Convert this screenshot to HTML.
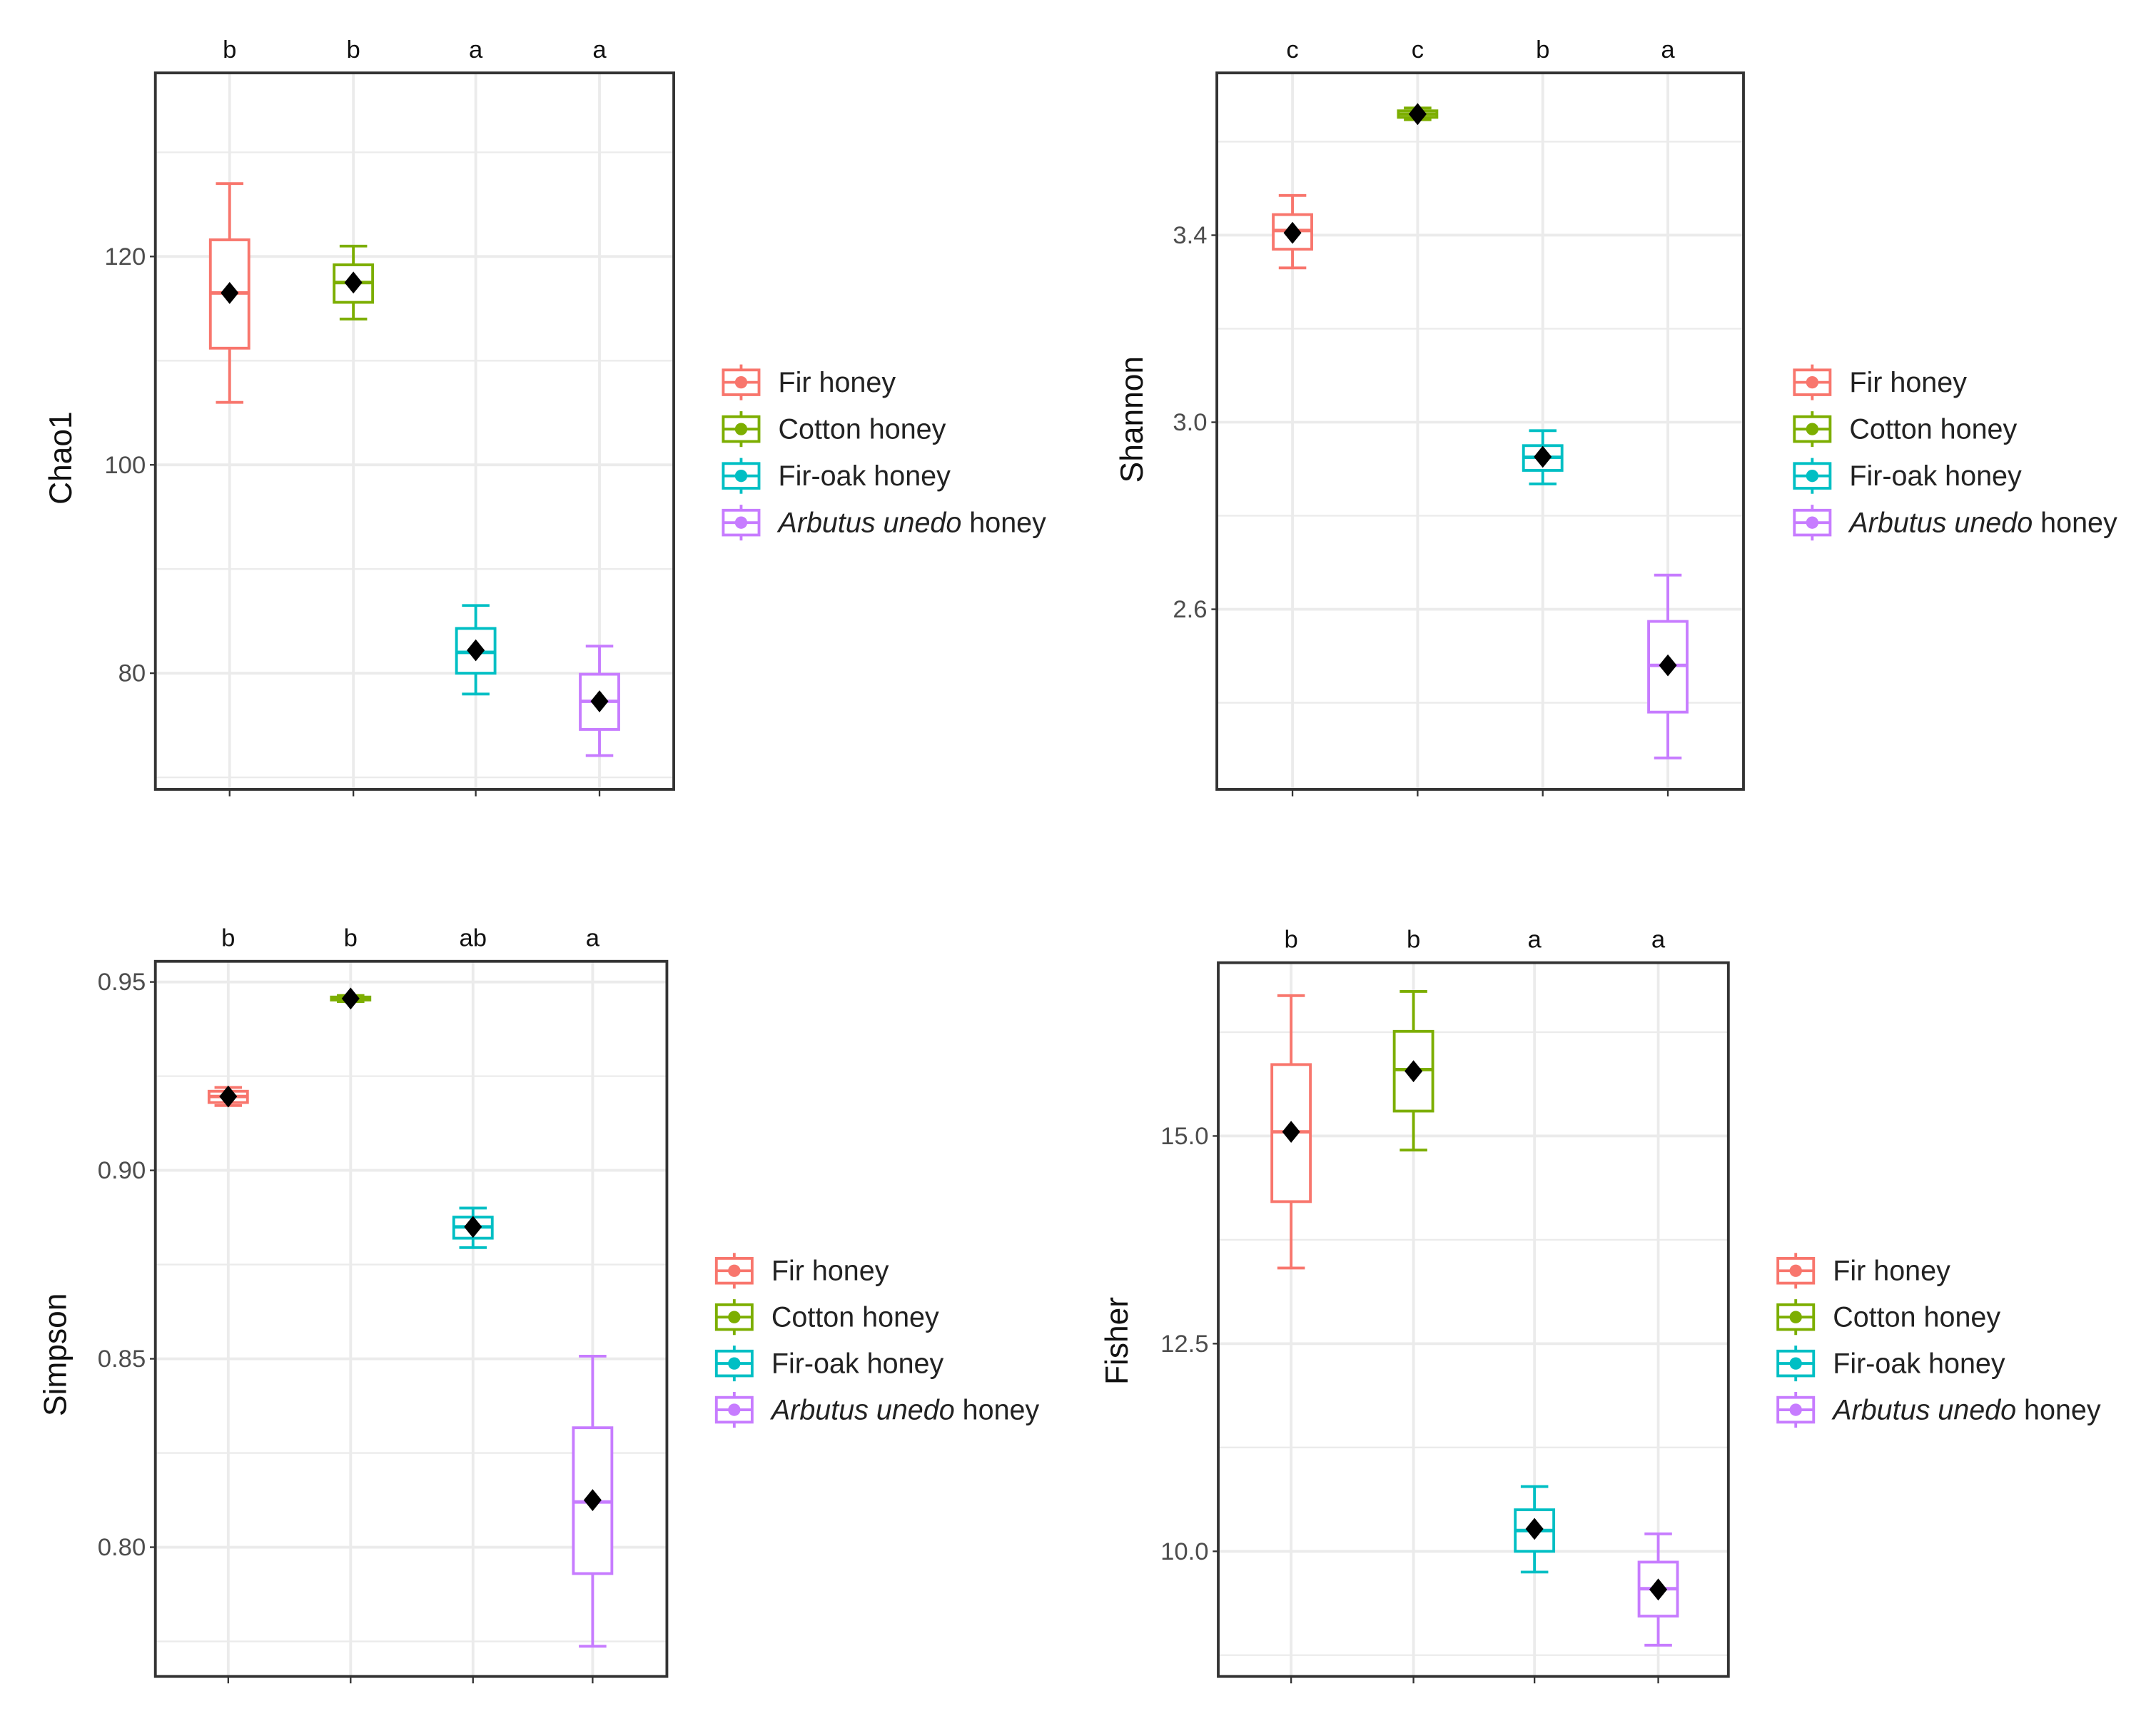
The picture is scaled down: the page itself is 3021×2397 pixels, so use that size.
<!DOCTYPE html>
<html><head><meta charset="utf-8"><style>
html,body{margin:0;padding:0;background:#fff;}
svg{display:block;}
text{font-family:"Liberation Sans",sans-serif;}
</style></head><body>
<svg id="chart" xmlns="http://www.w3.org/2000/svg" width="3021" height="2397" viewBox="0 0 1568 1244.1"></svg>
<script>
const categories = ["Fir honey","Cotton honey","Fir-oak honey","Arbutus unedo honey"];
const colors = ["#F8766D","#7CAE00","#00BFC4","#C77CFF"];
// Chao1
const chao1Low = [106, 114, 78, 72.1];
const chao1Q1 = [111.2, 115.6, 80.0, 74.6];
const chao1Med = [116.5, 117.5, 82.0, 77.3];
const chao1Q3 = [121.6, 119.2, 84.3, 79.9];
const chao1High = [127, 121, 86.5, 82.6];
const chao1Mean = [116.5, 117.5, 82.2, 77.3];
const chao1Ticks = [80, 100, 120];
const chao1Letters = ["b","b","a","a"];
// Shannon
const shannonLow = [3.33, 3.647, 2.868, 2.282];
const shannonQ1 = [3.37, 3.652, 2.897, 2.38];
const shannonMed = [3.41, 3.659, 2.925, 2.48];
const shannonQ3 = [3.444, 3.666, 2.95, 2.574];
const shannonHigh = [3.485, 3.672, 2.982, 2.673];
const shannonMean = [3.405, 3.659, 2.926, 2.48];
const shannonTicks = [2.6, 3.0, 3.4];
const shannonLetters = ["c","c","b","a"];
// Simpson
const simpsonLow = [0.9172, 0.9448, 0.8795, 0.7737];
const simpsonQ1 = [0.918, 0.9452, 0.882, 0.793];
const simpsonMed = [0.9196, 0.9456, 0.885, 0.812];
const simpsonQ3 = [0.921, 0.946, 0.8876, 0.8317];
const simpsonHigh = [0.922, 0.9464, 0.890, 0.8507];
const simpsonMean = [0.9196, 0.9456, 0.885, 0.8125];
const simpsonTicks = [0.80, 0.85, 0.90, 0.95];
const simpsonLetters = ["b","b","ab","a"];
// Fisher
const fisherLow = [13.41, 14.83, 9.75, 8.87];
const fisherQ1 = [14.21, 15.3, 10.0, 9.22];
const fisherMed = [15.05, 15.8, 10.25, 9.55];
const fisherQ3 = [15.86, 16.26, 10.5, 9.87];
const fisherHigh = [16.69, 16.74, 10.78, 10.21];
const fisherMean = [15.05, 15.78, 10.27, 9.54];
const fisherTicks = [10.0, 12.5, 15.0];
const fisherLetters = ["b","b","a","a"];

const NS = "http://www.w3.org/2000/svg";
const svg = document.getElementById("chart");
function mk(tag, attrs, parent){
  const e = document.createElementNS(NS, tag);
  for (const k in attrs) e.setAttribute(k, attrs[k]);
  (parent||svg).appendChild(e);
  return e;
}

function panel(cfg){
  const g = mk("g", {});
  
  
  const {x0,x1,y0,y1,v0,p0,v1,p1} = cfg;
  const ys = v => p0 + (v - v0) * (p1 - p0) / (v1 - v0);
  const step = cfg.ticks[1] - cfg.ticks[0];
  for (let k=-3;k<=cfg.ticks.length+3;k++){
    const v = cfg.ticks[0] + (k-0.5)*step;
    const y = ys(v);
    if (y > y0+2 && y < y1-2){
      const l = mk("line",{x1:x0,x2:x1,y1:y,y2:y,stroke:"#ebebeb","stroke-width":1.2},g);
      
      
    }
  }
  cfg.ticks.forEach((v)=>{
    const y = ys(v);
    const l = mk("line",{x1:x0,x2:x1,y1:y,y2:y,stroke:"#ebebeb","stroke-width":2},g);
    
    
    mk("line",{x1:x0-4,x2:x0,y1:y,y2:y,stroke:"#333","stroke-width":1.2},g);
    const t = mk("text",{x:x0-7,y:y+6,"text-anchor":"end","font-size":18,fill:"#4d4d4d"},g);
    t.textContent = cfg.fmt(v);
    
    
  });
  cfg.cx.forEach((cx,i)=>{
    const l = mk("line",{x1:cx,x2:cx,y1:y0,y2:y1,stroke:"#ebebeb","stroke-width":2},g);
    
    
    mk("line",{x1:cx,x2:cx,y1:y1,y2:y1+5,stroke:"#333","stroke-width":1.2},g);
    const t = mk("text",{x:cx,y:y0-11,"text-anchor":"middle","font-size":18,fill:"#111"},g);
    t.textContent = cfg.letters[i];
    
    
  });
  cfg.cx.forEach((cx,i)=>{
    const c = colors[i];
    const bg = mk("g",{},g);
    
    
    const yl=ys(cfg.low[i]), yq1=ys(cfg.q1[i]), ym=ys(cfg.med[i]), yq3=ys(cfg.q3[i]), yh=ys(cfg.high[i]), ymean=ys(cfg.mean[i]);
    mk("line",{x1:cx,x2:cx,y1:yl,y2:yq1,stroke:c,"stroke-width":2},bg);
    mk("line",{x1:cx,x2:cx,y1:yq3,y2:yh,stroke:c,"stroke-width":2},bg);
    mk("line",{x1:cx-10,x2:cx+10,y1:yl,y2:yl,stroke:c,"stroke-width":2},bg);
    mk("line",{x1:cx-10,x2:cx+10,y1:yh,y2:yh,stroke:c,"stroke-width":2},bg);
    mk("rect",{x:cx-14,y:yq3,width:28,height:Math.max(yq1-yq3,1),fill:"#fff",stroke:c,"stroke-width":2},bg);
    mk("line",{x1:cx-14,x2:cx+14,y1:ym,y2:ym,stroke:c,"stroke-width":2.5},bg);
    const d = mk("polygon",{points:`${cx},${ymean-8} ${cx+6.5},${ymean} ${cx},${ymean+8} ${cx-6.5},${ymean}`,fill:"#000"},bg);
    
    
  });
  const fr = mk("rect",{x:x0,y:y0,width:x1-x0,height:y1-y0,fill:"none",stroke:"#333","stroke-width":2},g);
  
  
  const at = mk("text",{x:cfg.lx,y:cfg.ly,"text-anchor":"middle","font-size":23,fill:"#111",transform:`rotate(-90 ${cfg.lx} ${cfg.ly})`},g);
  at.textContent = cfg.title;
  
  
  const lg = mk("g",{},g);
  
  
  categories.forEach((cat,i)=>{
    const ey = cfg.legY[0] + i*(cfg.legY[1]-cfg.legY[0]);
    const kx = cfg.legX, c = colors[i];
    const eg = mk("g",{},lg);
    
    
    mk("line",{x1:kx,x2:kx,y1:ey-13,y2:ey+13,stroke:c,"stroke-width":2},eg);
    mk("rect",{x:kx-13,y:ey-9,width:26,height:18,fill:"#fff",stroke:c,"stroke-width":2},eg);
    mk("line",{x1:kx-13,x2:kx+13,y1:ey,y2:ey,stroke:c,"stroke-width":2},eg);
    mk("circle",{cx:kx,cy:ey,r:4.5,fill:c},eg);
    const t = mk("text",{x:kx+27,y:ey+7,"font-size":20.5,fill:"#222"},eg);
    if (i===3){
      const s = mk("tspan",{"font-style":"italic"},t); s.textContent = "Arbutus unedo";
      const s2 = mk("tspan",{},t); s2.textContent = " honey";
    } else t.textContent = cat;
  });
}

panel({name:"chao1",x0:113,x1:490,y0:53,y1:574,v0:100,p0:338,v1:120,p1:186.5,ticks:chao1Ticks,fmt:v=>String(v),
  cx:[167,257,346,436],letters:chao1Letters,low:chao1Low,q1:chao1Q1,med:chao1Med,q3:chao1Q3,high:chao1High,mean:chao1Mean,
  title:"Chao1",lx:52,ly:333,legX:539,legY:[278,312]});
panel({name:"shannon",x0:885,x1:1268,y0:53,y1:574,v0:3.0,p0:307,v1:3.4,p1:171,ticks:shannonTicks,fmt:v=>v.toFixed(1),
  cx:[940,1031,1122,1213],letters:shannonLetters,low:shannonLow,q1:shannonQ1,med:shannonMed,q3:shannonQ3,high:shannonHigh,mean:shannonMean,
  title:"Shannon",lx:831,ly:305,legX:1318,legY:[278,312]});
panel({name:"simpson",x0:113,x1:485,y0:699,y1:1219,v0:0.90,p0:851,v1:0.95,p1:714,ticks:simpsonTicks,fmt:v=>v.toFixed(2),
  cx:[166,255,344,431],letters:simpsonLetters,low:simpsonLow,q1:simpsonQ1,med:simpsonMed,q3:simpsonQ3,high:simpsonHigh,mean:simpsonMean,
  title:"Simpson",lx:48,ly:985,legX:534,legY:[924,957.7]});
panel({name:"fisher",x0:886,x1:1257,y0:700,y1:1219,v0:10.0,p0:1128,v1:15.0,p1:826,ticks:fisherTicks,fmt:v=>v.toFixed(1),
  cx:[939,1028,1116,1206],letters:fisherLetters,low:fisherLow,q1:fisherQ1,med:fisherMed,q3:fisherQ3,high:fisherHigh,mean:fisherMean,
  title:"Fisher",lx:820,ly:975,legX:1306,legY:[924,957.7]});
</script>
</body></html>
